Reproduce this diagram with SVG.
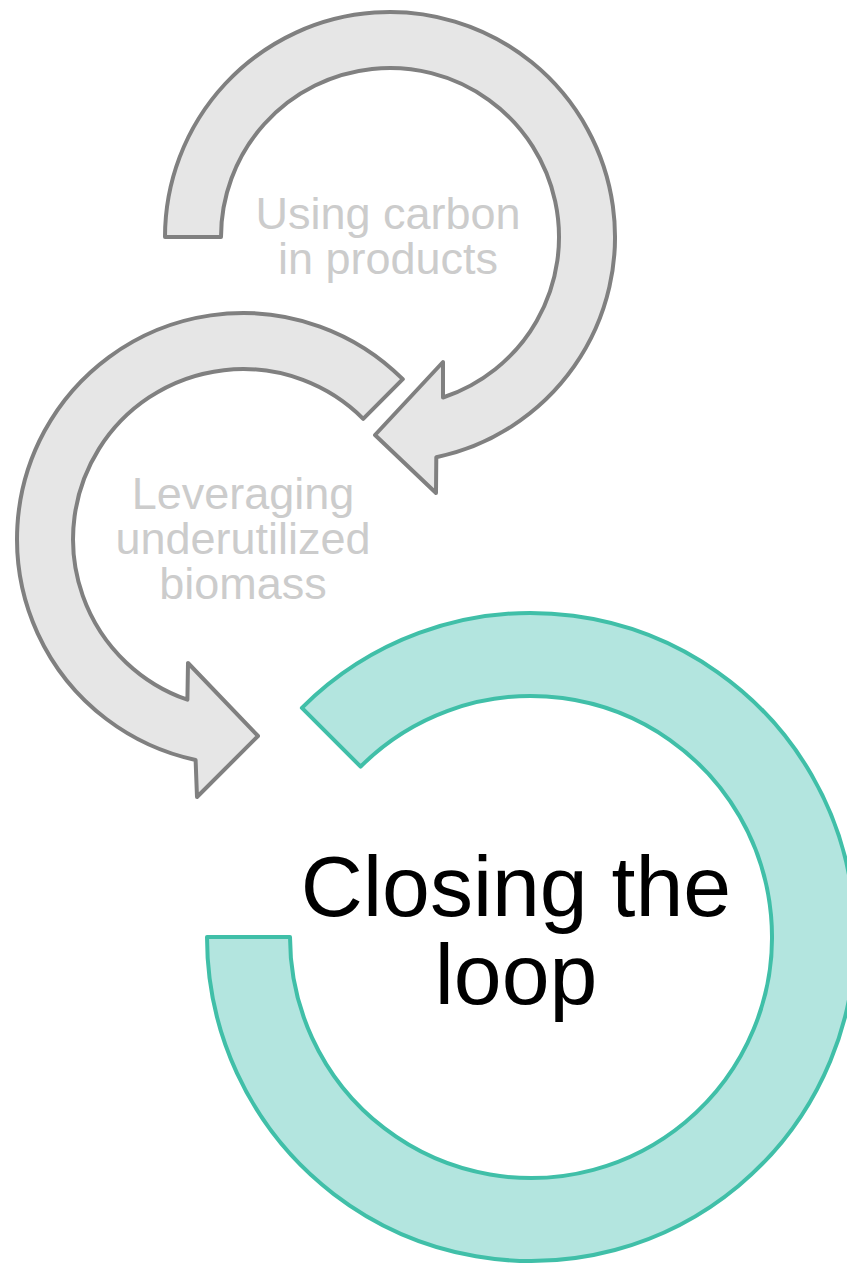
<svg xmlns="http://www.w3.org/2000/svg" width="847" height="1264" viewBox="0 0 847 1264">
<style>
.grey{fill:#e6e6e6;stroke:#808080;stroke-width:4;stroke-linejoin:round}
.teal{fill:#b3e5df;stroke:#40bfa8;stroke-width:4;stroke-linejoin:round}
.lbl{font-family:"Liberation Sans",Arial,sans-serif;fill:#cccccc;font-size:45px;text-anchor:middle}
.main{font-family:"Liberation Sans",Arial,sans-serif;fill:#000000;font-size:86px;text-anchor:middle}
</style>
<rect width="847" height="1264" fill="#ffffff"/>
<g id="node-carbon">
<path class="grey" d="M165,237 A225,225 0 1 1 436.3,457.2 L436,493 L375,435 L443,362 L443,397.5 A169,169 0 1 0 221,237 Z"/>
<text class="lbl" x="388" y="229">Using carbon</text>
<text class="lbl" x="388" y="274">in products</text>
</g>
<g id="node-biomass">
<path class="grey" d="M402.8,379.2 A226,226 0 1 0 195.6,760 L197,797 L258,736 L188,663 L187.4,699.7 A170,170 0 1 1 363.2,418.8 Z"/>
<text class="lbl" x="243" y="509">Leveraging</text>
<text class="lbl" x="243" y="554">underutilized</text>
<text class="lbl" x="243" y="599">biomass</text>
</g>
<g id="node-loop">
<path class="teal" d="M207,937 A324,324 0 1 0 301.9,707.9 L360.6,766.6 A241,241 0 1 1 290,937 Z"/>
<text class="main" x="516" y="916">Closing the</text>
<text class="main" x="516" y="1004">loop</text>
</g>
<g id="connectors"></g>
</svg>
